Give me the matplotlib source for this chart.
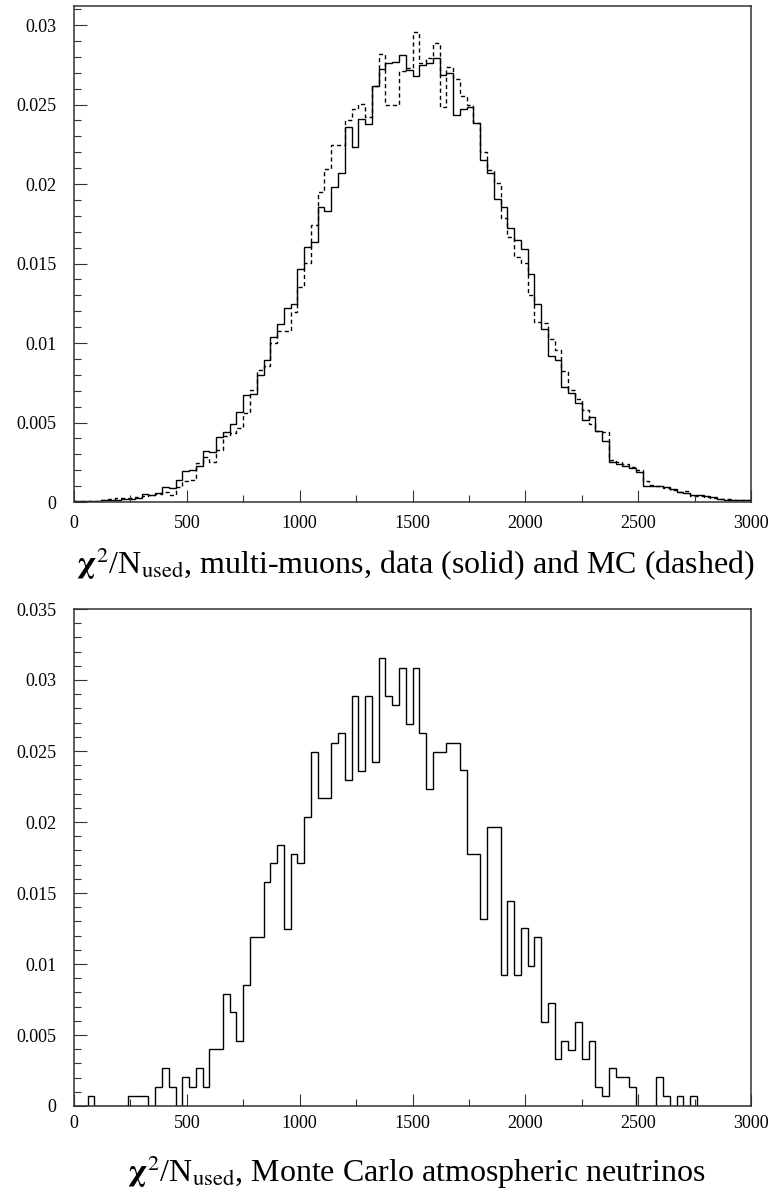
import numpy as np
import matplotlib
matplotlib.use("Agg")
import matplotlib.pyplot as plt
from matplotlib.ticker import MultipleLocator, FuncFormatter

plt.rcParams["font.family"] = ["Liberation Serif", "DejaVu Serif"]
plt.rcParams["mathtext.fontset"] = "stix"

# chi2/N_used histograms, 100 bins of width 30 between 0 and 3000
bin_edges = np.linspace(0, 3000, 101)

# multi-muon data (solid)
data_mu = [
    0.00006, 0.00006, 0.00004, 0.00008, 0.00010, 0.00013, 0.00015, 0.00020, 0.00020, 0.00023,
    0.00048, 0.00042, 0.00057, 0.00096, 0.00086, 0.00136, 0.00197, 0.00203, 0.00228, 0.00318,
    0.00314, 0.00409, 0.00442, 0.00490, 0.00564, 0.00670, 0.00679, 0.00796, 0.00895, 0.01035,
    0.01119, 0.01219, 0.01247, 0.01467, 0.01607, 0.01638, 0.01858, 0.01833, 0.01984, 0.02068,
    0.02361, 0.02235, 0.02409, 0.02378, 0.02617, 0.02723, 0.02763, 0.02769, 0.02809, 0.02717,
    0.02679, 0.02748, 0.02763, 0.02794, 0.02683, 0.02696, 0.02434, 0.02475, 0.02487, 0.02386,
    0.02152, 0.02068, 0.01904, 0.01854, 0.01726, 0.01649, 0.01590, 0.01435, 0.01247, 0.01087,
    0.00920, 0.00895, 0.00723, 0.00685, 0.00622, 0.00513, 0.00532, 0.00444, 0.00381, 0.00249,
    0.00239, 0.00228, 0.00214, 0.00191, 0.00098, 0.00103, 0.00098, 0.00092, 0.00082, 0.00061,
    0.00057, 0.00044, 0.00042, 0.00036, 0.00034, 0.00017, 0.00015, 0.00015, 0.00010, 0.00015,
]

# multi-muon Monte Carlo (dashed)
mc_mu = [
    0.00004, 0.00006, 0.00006, 0.00008, 0.00015, 0.00017, 0.00023, 0.00027, 0.00027, 0.00031,
    0.00036, 0.00044, 0.00048, 0.00061, 0.00042, 0.00094, 0.00130, 0.00140, 0.00245, 0.00283,
    0.00249, 0.00329, 0.00413, 0.00434, 0.00465, 0.00559, 0.00706, 0.00832, 0.00853, 0.00999,
    0.01073, 0.01073, 0.01194, 0.01355, 0.01502, 0.01743, 0.01953, 0.02093, 0.02246, 0.02246,
    0.02400, 0.02474, 0.02501, 0.02424, 0.02616, 0.02816, 0.02497, 0.02497, 0.02711, 0.02727,
    0.02958, 0.02759, 0.02791, 0.02885, 0.02486, 0.02734, 0.02658, 0.02554, 0.02497, 0.02386,
    0.02204, 0.02089, 0.02005, 0.01785, 0.01670, 0.01544, 0.01502, 0.01303, 0.01135, 0.01125,
    0.01024, 0.00957, 0.00821, 0.00706, 0.00647, 0.00580, 0.00492, 0.00444, 0.00440, 0.00266,
    0.00253, 0.00239, 0.00218, 0.00203, 0.00130, 0.00109, 0.00098, 0.00088, 0.00078, 0.00065,
    0.00069, 0.00040, 0.00036, 0.00029, 0.00023, 0.00021, 0.00017, 0.00015, 0.00010, 0.00013,
]

# Monte Carlo atmospheric neutrinos
mc_nu = [
    0.0, 0.0, 0.00068, 0.0, 0.0, 0.0, 0.0, 0.0, 0.00068, 0.00068,
    0.00068, 0.0, 0.00136, 0.00269, 0.00136, 0.0, 0.00201, 0.00136, 0.00269, 0.00136,
    0.00402, 0.00402, 0.00792, 0.00659, 0.00458, 0.00855, 0.01187, 0.01187, 0.01579, 0.01710,
    0.01840, 0.01249, 0.01772, 0.01710, 0.02036, 0.02494, 0.02170, 0.02170, 0.02559, 0.02625,
    0.02298, 0.02889, 0.02361, 0.02889, 0.02426, 0.03153, 0.02889, 0.02823, 0.03087, 0.02692,
    0.03087, 0.02627, 0.02232, 0.02494, 0.02494, 0.02559, 0.02559, 0.02363, 0.01772, 0.01772,
    0.01315, 0.01968, 0.01968, 0.00923, 0.01446, 0.00923, 0.01252, 0.00988, 0.01187, 0.00591,
    0.00724, 0.00332, 0.00460, 0.00395, 0.00591, 0.00332, 0.00460, 0.00136, 0.00068, 0.00269,
    0.00201, 0.00201, 0.00136, 0.0, 0.0, 0.0, 0.00201, 0.00068, 0.0, 0.00068,
    0.0, 0.00068, 0.0, 0.0, 0.0, 0.0, 0.0, 0.0, 0.0, 0.0,
]

label_top = r"$\mathbf{\chi}^2$/N$_{\rm used}$, multi-muons, data (solid) and MC (dashed)"
label_bottom = r"$\mathbf{\chi}^2$/N$_{\rm used}$, Monte Carlo atmospheric neutrinos"

W, H = 773, 1196
fig = plt.figure(figsize=(W / 100, H / 100), dpi=100)


def style_axes(ax, ymax, xpad):
    ax.set_xlim(0, 3000)
    ax.set_ylim(0, ymax)
    ax.xaxis.set_major_locator(MultipleLocator(500))
    ax.xaxis.set_minor_locator(MultipleLocator(250))
    ax.yaxis.set_major_locator(MultipleLocator(0.005))
    ax.yaxis.set_minor_locator(MultipleLocator(0.001))
    ax.yaxis.set_major_formatter(FuncFormatter(lambda v, p: "%g" % round(v, 4)))
    ax.tick_params(which="both", direction="in", top=False, right=False,
                   color="#333333", width=0.8, labelsize=13)
    ax.tick_params(which="major", length=9)
    ax.tick_params(which="minor", length=4.8)
    ax.tick_params(axis="x", pad=xpad)
    ax.tick_params(axis="y", pad=12.5)
    for s in ax.spines.values():
        s.set_color("#333333")
        s.set_linewidth(1.1)


ax1 = fig.add_axes([74 / W, 1 - 502 / H, 677 / W, 496 / H])
ax1.stairs(data_mu, bin_edges, color="black", linewidth=1.0)
ax1.stairs(mc_mu, bin_edges, color="black", linewidth=1.0, linestyle=(0, (3.0, 2.2)))
style_axes(ax1, 0.0312, 9.0)

ax2 = fig.add_axes([74 / W, 1 - 1106 / H, 677 / W, 497 / H])
ax2.stairs(mc_nu, bin_edges, color="black", linewidth=1.0)
style_axes(ax2, 0.035, 6.5)

fig.text(415 / W, 1 - 574 / H, label_top, ha="center", va="baseline", fontsize=23)
fig.text(416 / W, 1 - 1182 / H, label_bottom, ha="center", va="baseline", fontsize=23)

fig.savefig("out.png", dpi=100)
